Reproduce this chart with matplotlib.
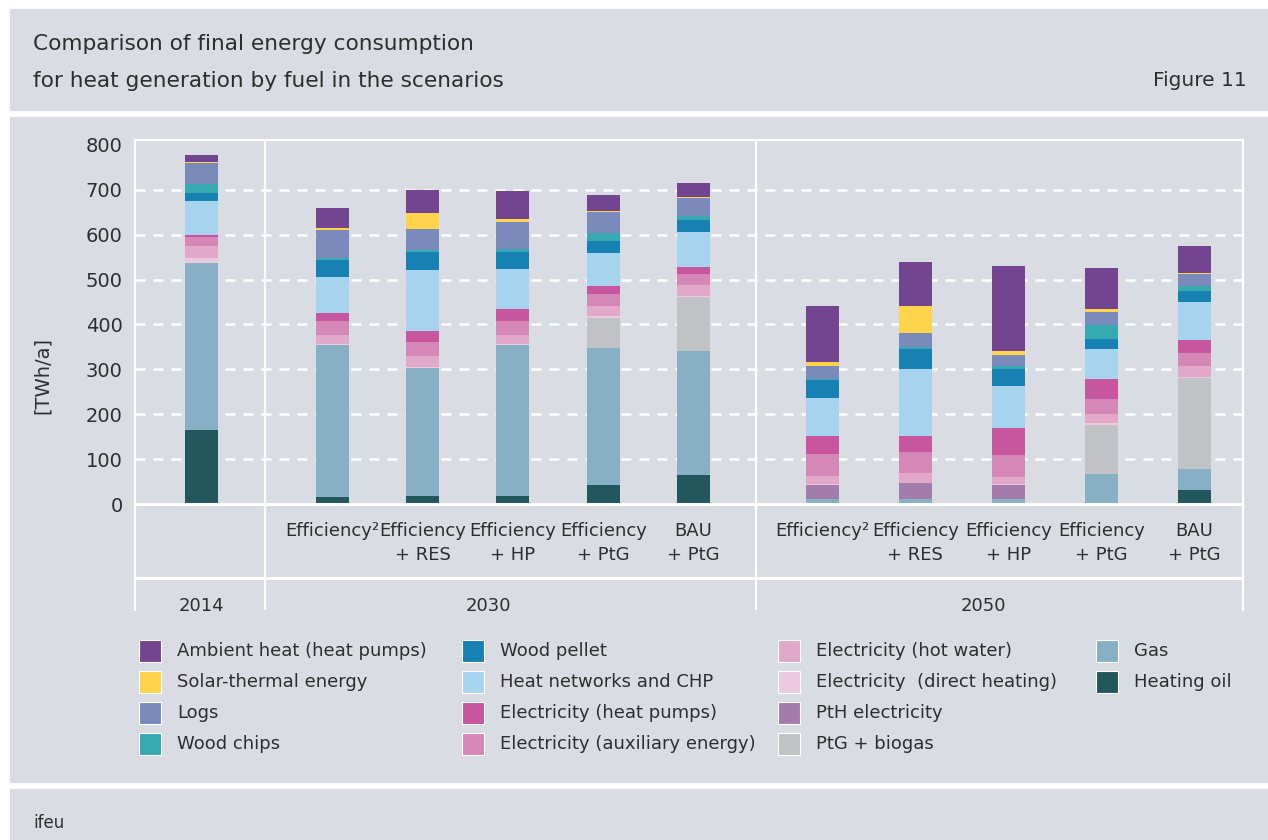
import numpy as np
import matplotlib
matplotlib.use("Agg")
import matplotlib.pyplot as plt
from matplotlib.patches import Rectangle

# data (TWh/a)
scenarios = ["", "Efficiency²", "Efficiency\n+ RES", "Efficiency\n+ HP", "Efficiency\n+ PtG", "BAU\n+ PtG",
             "Efficiency²", "Efficiency\n+ RES", "Efficiency\n+ HP", "Efficiency\n+ PtG", "BAU\n+ PtG"]
years = ["2014", "2030", "2050"]
group_sizes = [1, 5, 5]

fuels = ["Ambient heat (heat pumps)", "Solar-thermal energy", "Logs", "Wood chips",
         "Wood pellet", "Heat networks and CHP", "Electricity (heat pumps)", "Electricity (auxiliary energy)",
         "Electricity (hot water)", "Electricity  (direct heating)", "PtH electricity", "PtG + biogas",
         "Gas", "Heating oil"]

ambient    = [14, 44, 52, 62, 35, 31, 125, 98, 190, 91, 60]
solar      = [4, 5, 35, 7, 3, 2, 9, 61, 9, 7, 2]
logs       = [47, 62, 47, 60, 47, 40, 29, 31, 24, 29, 27]
chips      = [20, 5, 5, 7, 17, 9, 2, 4, 7, 31, 11]
pellet     = [16, 38, 40, 38, 27, 27, 40, 45, 38, 22, 24]
heat_nets  = [76, 80, 136, 89, 73, 78, 85, 149, 93, 67, 85]
el_hp      = [4, 18, 25, 27, 18, 16, 40, 34, 60, 43, 29]
el_aux     = [22, 31, 31, 31, 27, 24, 49, 47, 50, 35, 29]
el_water   = [25, 19, 24, 19, 23, 25, 18, 22, 15, 20, 25]
el_direct  = [13, 3, 3, 3, 4, 2, 2, 2, 2, 3, 2]
pth        = [0, 0, 0, 0, 0, 0, 31, 34, 31, 0, 0]
ptg        = [0, 0, 0, 0, 67, 121, 0, 0, 0, 109, 201]
gas        = [371, 339, 285, 337, 304, 276, 12, 12, 12, 68, 47]
oil        = [165, 15, 17, 17, 43, 64, 0, 0, 0, 0, 32]

series = [ambient, solar, logs, chips, pellet, heat_nets, el_hp, el_aux,
          el_water, el_direct, pth, ptg, gas, oil]
colors = ["#734591", "#ffd44b", "#798abb", "#37a9b0", "#1881b4", "#a6d4ee", "#c7569f", "#d587b8",
          "#e1a8ca", "#ecc9de", "#a37cab", "#c1c2c6", "#87b0c5", "#22575e"]

W, H = 1268, 840
BG = "#d9dce2"
TXT = "#2e2e2e"

def fx(x):
    return x / W

def fy(y):
    return 1 - y / H

fig = plt.figure(figsize=(W / 100, H / 100), dpi=100, facecolor="white")

# grey panels
for top, bot in [(9, 111), (117, 783), (789, 840)]:
    fig.add_artist(Rectangle((fx(10), fy(bot)), fx(W - 10), (bot - top) / H,
                             transform=fig.transFigure, facecolor=BG, edgecolor="none", zorder=-5))

fig.text(fx(33), fy(44), "Comparison of final energy consumption", fontsize=15.6, color=TXT, va="center")
fig.text(fx(33), fy(81), "for heat generation by fuel in the scenarios", fontsize=15.6, color=TXT, va="center")
fig.text(fx(1247), fy(81), "Figure 11", fontsize=14.5, color=TXT, va="center", ha="right")
fig.text(fx(33), fy(823), "ifeu", fontsize=12, color=TXT, va="center")

ax = fig.add_axes([fx(135), fy(610), (1243 - 135) / W, (610 - 140) / H])
ax.set_facecolor("none")

# bar positions: group start + step inside the group
group_start = [0.0, 1.425, 6.78]
group_step = [1.0, 0.987, 1.014]
pos = []
for s, st, n in zip(group_start, group_step, group_sizes):
    pos.extend(s + st * np.arange(n))
pos = np.array(pos)

bottom = np.zeros(len(pos))
for vals, c in zip(series[::-1], colors[::-1]):
    ax.bar(pos, vals, width=0.36, bottom=bottom, color=c, linewidth=0, zorder=3)
    bottom += np.array(vals)

ax.set_xlim(-0.726, 11.37)
ax.set_ylim(-236, 811)

for y in range(100, 800, 100):
    ax.axhline(y, color="white", lw=1.8, dashes=(4, 3.2), zorder=1)
ax.axhline(0, color="white", lw=2.2, zorder=4)
ax.axhline(-165.5, color="white", lw=2.2, zorder=1)

# group separators
bounds = [0.688, 6.048]
for b in bounds:
    ax.axvline(b, color="white", lw=1.6, zorder=1)

for s in ["left", "right", "top"]:
    ax.spines[s].set_color("white")
    ax.spines[s].set_linewidth(1.6)
ax.spines["bottom"].set_visible(False)

ax.set_xticks([])
ax.set_yticks(range(0, 900, 100))
ax.tick_params(axis="y", length=0, pad=9, labelsize=14, labelcolor=TXT)
ax.set_ylabel("[TWh/a]", fontsize=14, color=TXT, labelpad=24)

for x, lab in zip(pos, scenarios):
    ax.text(x, -40, lab, ha="center", va="top", fontsize=13, color=TXT, linespacing=1.4)

year_x = [0.0, 3.13, 8.54]
for x, lab in zip(year_x, years):
    ax.text(x, -226, lab, ha="center", va="center", fontsize=13, color=TXT, clip_on=False)

# legend, four columns
col_x = [139, 462, 778, 1096]
row_y = [651, 682, 713, 744]
for i, (lab, c) in enumerate(zip(fuels, colors)):
    col, row = divmod(i, 4)
    xl, yc = col_x[col], row_y[row]
    fig.add_artist(Rectangle((fx(xl), fy(yc + 11)), 22 / W, 22 / H, transform=fig.transFigure,
                             facecolor=c, edgecolor="white", lw=0.8))
    fig.text(fx(xl + 38), fy(yc), lab, fontsize=13, color=TXT, va="center")

fig.savefig("out.png", dpi=100, facecolor="white")
